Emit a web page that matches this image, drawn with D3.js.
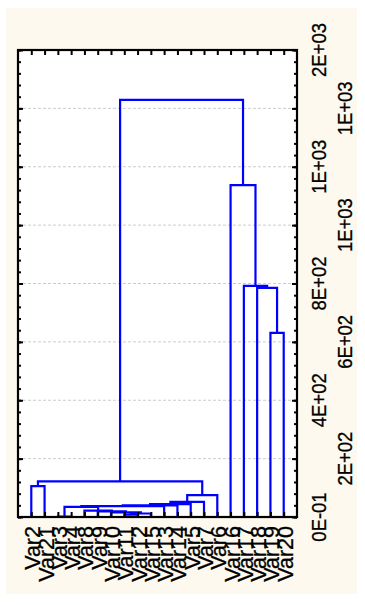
<html>
<head>
    <title>Tree Diagram</title>
    <script src="https://cdn.jsdelivr.net/npm/d3@7"></script>
    <style>
        body{
            margin: 0;
            background: #ffffff;
        }
        text{
            font-family: "Liberation Sans", Arial, sans-serif;
            fill: #000000;
            stroke: #000000;
            stroke-width: 0.3px;
        }
    </style>
</head>
<body>
<svg id="chart" width="365" height="605"></svg>

<script>
    // leaf order along the bottom
    var leaves = ["Var2", "Var21", "Var3", "Var4", "Var8", "Var9", "Var10", "Var11", "Var12", "Var15",
                  "Var13", "Var14", "Var5", "Var7", "Var6", "Var16", "Var17", "Var18", "Var19", "Var20"];

    // merges: [left, right, linkage distance]; "mN" is the cluster built at row N
    var merges = [
        ["Var3", "Var4", 1],      // m0
        ["Var11", "Var12", 8],    // m1
        ["m1", "Var15", 12],      // m2
        ["Var10", "m2", 16],      // m3
        ["Var9", "m3", 19],       // m4
        ["Var8", "m4", 22],       // m5
        ["m0", "m5", 35],         // m6
        ["m6", "Var13", 37],      // m7
        ["m7", "Var14", 40],      // m8
        ["m8", "Var5", 44],       // m9
        ["m9", "Var7", 52],       // m10
        ["m10", "Var6", 75],      // m11
        ["Var2", "Var21", 106],   // m12
        ["m12", "m11", 122],      // m13
        ["Var19", "Var20", 631],  // m14
        ["Var18", "m14", 785],    // m15
        ["Var17", "m15", 792],    // m16
        ["Var16", "m16", 1137],   // m17
        ["m13", "m17", 1429]      // m18
    ];

    var majorTicks = [0, 200, 400, 600, 800, 1000, 1200, 1400, 1600];
    var tickLabels = ["0E-01", "2E+02", "4E+02", "6E+02", "8E+02", "1E+03", "1E+03", "1E+03", "2E+03"];
    var minorStep = 40;

    var plotLeft = 18, plotRight = 297, plotTop = 50, plotBottom = 517;

    var svg = d3.select("#chart");

    // cream panel
    svg.append("rect")
        .attr("x", 6).attr("y", 8)
        .attr("width", 351).attr("height", 586)
        .attr("fill", "#fdf9ee");

    // plot area
    svg.append("rect")
        .attr("x", plotLeft).attr("y", plotTop)
        .attr("width", plotRight - plotLeft).attr("height", plotBottom - plotTop)
        .attr("fill", "#ffffff");

    var x = d3.scalePoint().domain(leaves).range([plotLeft, plotRight]).padding(1);
    var y = d3.scaleLinear().domain([0, 1600]).range([plotBottom, plotTop]);

    // grid
    svg.append("g").selectAll("line")
        .data(majorTicks.slice(1, -1))
        .enter().append("line")
        .attr("x1", plotLeft).attr("x2", plotRight)
        .attr("y1", function(d){ return y(d); })
        .attr("y2", function(d){ return y(d); })
        .attr("stroke", "#cccccc")
        .attr("stroke-width", 1)
        .attr("stroke-dasharray", "3,2");

    // tree
    var nodes = {};
    leaves.forEach(function(v){ nodes[v] = {x: x(v), h: 0}; });
    var links = [];
    merges.forEach(function(m, i){
        var a = nodes[m[0]], b = nodes[m[1]];
        nodes["m" + i] = {x: (a.x + b.x) / 2, h: m[2]};
        links.push({a: a, b: b, h: m[2]});
    });

    svg.append("g").selectAll("path")
        .data(links)
        .enter().append("path")
        .attr("d", function(d){
            return "M" + d.a.x + "," + y(d.a.h) + "V" + y(d.h) + "H" + d.b.x + "V" + y(d.b.h);
        })
        .attr("fill", "none")
        .attr("stroke", "#0000ff")
        .attr("stroke-width", 2.2);

    // ticks
    var minor = d3.range(0, 1600 + 1, minorStep);
    function tickStyle(g){
        g.select(".domain").remove();
        g.selectAll("text").remove();
        g.selectAll("line").attr("stroke", "#000").attr("stroke-width", 2);
    }
    svg.append("g").attr("transform", "translate(" + plotLeft + ",0)")
        .call(d3.axisLeft(y).tickValues(minor).tickSize(-3)).call(tickStyle);
    svg.append("g").attr("transform", "translate(" + plotLeft + ",0)")
        .call(d3.axisLeft(y).tickValues(majorTicks).tickSize(-5)).call(tickStyle);
    svg.append("g").attr("transform", "translate(" + plotRight + ",0)")
        .call(d3.axisRight(y).tickValues(minor).tickSize(-3)).call(tickStyle);
    svg.append("g").attr("transform", "translate(" + plotRight + ",0)")
        .call(d3.axisRight(y).tickValues(majorTicks).tickSize(-5)).call(tickStyle);
    svg.append("g").attr("transform", "translate(0," + plotTop + ")")
        .call(d3.axisTop(x).tickSize(-5)).call(tickStyle);
    svg.append("g").attr("transform", "translate(0," + plotBottom + ")")
        .call(d3.axisBottom(x).tickSize(-5)).call(tickStyle);

    // frame
    svg.append("rect")
        .attr("x", plotLeft).attr("y", plotTop)
        .attr("width", plotRight - plotLeft).attr("height", plotBottom - plotTop)
        .attr("fill", "none")
        .attr("stroke", "#000")
        .attr("stroke-width", 2.2);

    // leaf labels
    svg.append("g").selectAll("text")
        .data(leaves)
        .enter().append("text")
        .attr("transform", function(d){ return "translate(" + (x(d) + 9) + "," + (plotBottom + 9) + ") rotate(-90)"; })
        .attr("text-anchor", "end")
        .attr("font-size", 21.5)
        .text(function(d){ return d; });

    // value labels, staggered in two columns
    svg.append("g").selectAll("text")
        .data(majorTicks)
        .enter().append("text")
        .attr("transform", function(d, i){
            var bx = (i % 2 == 0) ? 326 : 352;
            return "translate(" + bx + "," + y(d) + ") rotate(-90) scale(0.88,1)";
        })
        .attr("text-anchor", "middle")
        .attr("font-size", 21)
        .text(function(d, i){ return tickLabels[i]; });
</script>
</body>
</html>
